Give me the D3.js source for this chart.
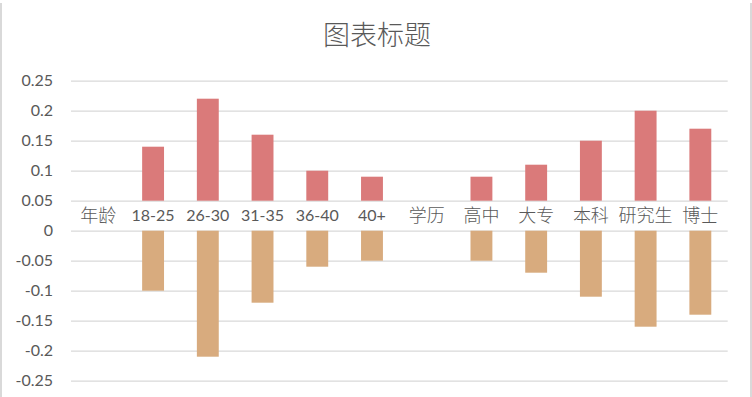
<!DOCTYPE html>
<html>
<head>
<meta charset="utf-8">
<script src="https://cdn.jsdelivr.net/npm/d3@7"></script>
<style>
  body { margin: 0; background: #fff; }
  svg { display: block; }
</style>
</head>
<body>
<div id="chart"></div>
<script>
// chart data
var categories = ["年龄", "18-25", "26-30", "31-35", "36-40", "40+", "学历", "高中", "大专", "本科", "研究生", "博士"];
var upperValues = [0, 0.14, 0.22, 0.16, 0.10, 0.09, 0, 0.09, 0.11, 0.15, 0.20, 0.17];
var lowerValues = [0, -0.10, -0.21, -0.12, -0.06, -0.05, 0, -0.05, -0.07, -0.11, -0.16, -0.14];
var yTicks = [0.25, 0.2, 0.15, 0.1, 0.05, 0, -0.05, -0.1, -0.15, -0.2, -0.25];
var labelBand = [0, 0.05]; // white strip holding the category names
var title = "图表标题";

var svgWidth = 752;
var svgHeight = 397;
var margin = {top: 80.7, right: 24.3, bottom: 16.3, left: 71};
var width = svgWidth - margin.left - margin.right;
var height = svgHeight - margin.top - margin.bottom;

var svg = d3.select("#chart")
  .append("svg")
  .attr("width", svgWidth)
  .attr("height", svgHeight);

// chart border (left / right edges)
svg.append("line")
  .attr("x1", 1).attr("x2", 1).attr("y1", 3).attr("y2", svgHeight)
  .attr("stroke", "#d9d9d9").attr("stroke-width", 2);
svg.append("line")
  .attr("x1", 751).attr("x2", 751).attr("y1", 3).attr("y2", svgHeight)
  .attr("stroke", "#d9d9d9").attr("stroke-width", 2);

svg.append("text")
  .attr("x", 377)
  .attr("y", 45)
  .attr("text-anchor", "middle")
  .attr("font-family", "'Noto Sans CJK SC', sans-serif")
  .attr("font-size", "27px")
  .attr("font-weight", 300)
  .attr("fill", "#595959")
  .text(title);

var chartGroup = svg.append("g")
  .attr("transform", `translate(${margin.left}, ${margin.top})`);

var xScale = d3.scaleBand()
  .domain(categories)
  .range([0, width])
  .paddingInner(0.6)
  .paddingOuter(0.3);

var yScale = d3.scaleLinear()
  .domain([-0.25, 0.25])
  .range([height, 0]);

// gridlines + tick labels
var leftAxis = d3.axisLeft(yScale)
  .tickValues(yTicks)
  .tickSize(-width)
  .tickPadding(18)
  .tickFormat(d => String(+d.toFixed(2)));

var yAxis = chartGroup.append("g").call(leftAxis);
yAxis.select(".domain").remove();
yAxis.selectAll(".tick line")
  .attr("stroke", "#d9d9d9")
  .attr("stroke-width", 1.3);
yAxis.selectAll(".tick text")
  .attr("fill", "#595959")
  .attr("font-family", "Lato, 'Open Sans', sans-serif")
  .attr("font-size", "16px")
  .attr("dy", "0.33em");

// upper series, sitting on the label band
chartGroup.selectAll(".upper")
  .data(upperValues)
  .enter()
  .append("rect")
  .attr("class", "upper")
  .attr("x", (d, i) => xScale(categories[i]))
  .attr("width", xScale.bandwidth())
  .attr("y", d => yScale(Math.max(d, labelBand[1])))
  .attr("height", d => Math.max(0, yScale(labelBand[1]) - yScale(Math.max(d, labelBand[1]))))
  .attr("fill", "#da7a7a");

// lower series
chartGroup.selectAll(".lower")
  .data(lowerValues)
  .enter()
  .append("rect")
  .attr("class", "lower")
  .attr("x", (d, i) => xScale(categories[i]))
  .attr("width", xScale.bandwidth())
  .attr("y", yScale(0))
  .attr("height", d => yScale(d) - yScale(0))
  .attr("fill", "#d8ab7e");

// category names inside the band
var isCJK = d => /[\u4e00-\u9fff]/.test(d);
chartGroup.selectAll(".cat")
  .data(categories)
  .enter()
  .append("text")
  .attr("class", "cat")
  .attr("x", d => xScale(d) + xScale.bandwidth() / 2)
  .attr("y", yScale((labelBand[0] + labelBand[1]) / 2))
  .attr("dy", "0.36em")
  .attr("text-anchor", "middle")
  .attr("font-family", d => isCJK(d) ? "'Noto Sans CJK SC', sans-serif" : "Lato, sans-serif")
  .attr("font-size", d => isCJK(d) ? "18px" : "16px")
  .attr("font-weight", d => isCJK(d) ? 300 : 400)
  .attr("fill", "#595959")
  .text(d => d);
</script>
</body>
</html>
